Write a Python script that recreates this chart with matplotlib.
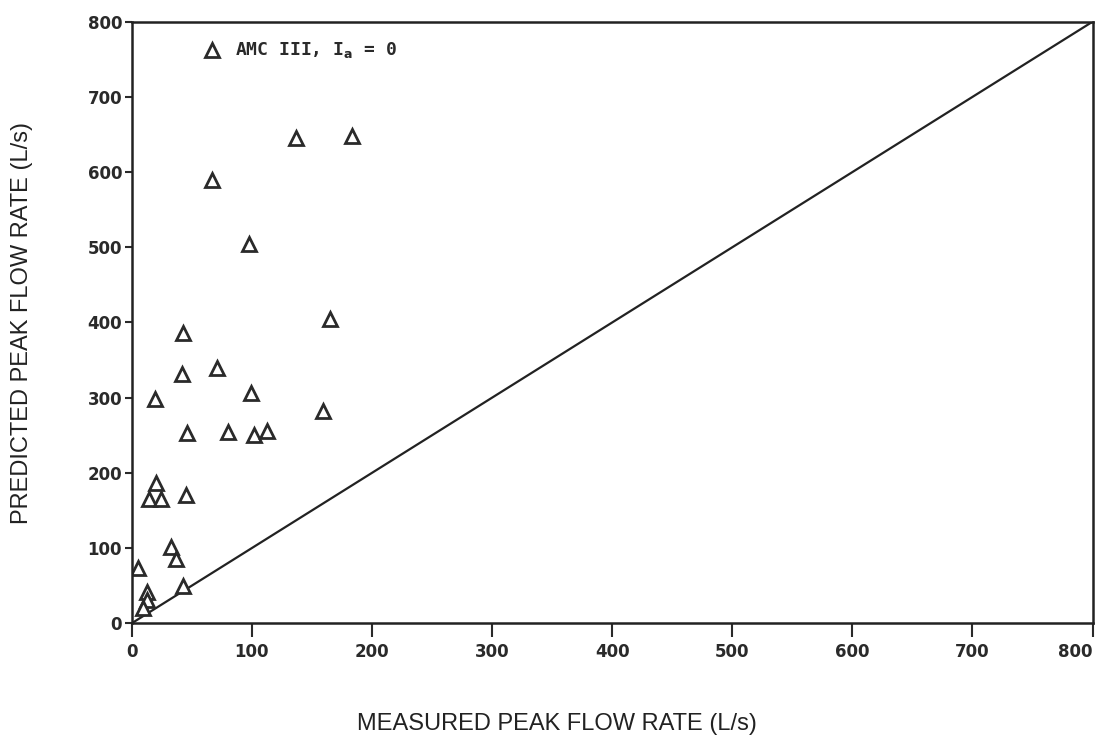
import numpy as np
import matplotlib.pyplot as plt

# Measured vs predicted peak flow rates (L/s), AMC III with Ia = 0
measured = [165, 137, 183, 67, 98, 43, 42, 71, 99, 19, 159, 46, 80, 102, 113,
            20, 14, 24, 45, 33, 37, 5, 43, 13, 13, 9]
predicted = [405, 645, 648, 590, 505, 386, 332, 340, 306, 298, 282, 253, 255, 251, 256,
             187, 165, 165, 170, 101, 86, 73, 50, 41, 31, 20]

ticks = [0, 100, 200, 300, 400, 500, 600, 700, 800]
ink = '#2a2a2a'

fig = plt.figure(figsize=(10.98, 7.5), dpi=100)
ax = fig.add_axes([0.120, 0.169, 0.875, 0.802])

# 1:1 line
ax.plot([0, 800], [0, 800], color='#222222', lw=1.6)

ax.plot(measured, predicted, linestyle='none', marker='^', markersize=10,
        markerfacecolor='white', markeredgecolor=ink, markeredgewidth=2.0)

# legend entry drawn by hand
ax.plot([67], [762], linestyle='none', marker='^', markersize=10,
        markerfacecolor='white', markeredgecolor=ink, markeredgewidth=2.0,
        clip_on=False)
ax.text(86, 762, r'AMC III, I$_\mathbf{a}$ = 0', fontsize=13, fontweight='bold',
        family='DejaVu Sans Mono', va='center', ha='left', color=ink)

ax.set_xlim(0, 800)
ax.set_ylim(0, 800)
ax.set_xticks(ticks)
ax.set_yticks(ticks)
ax.set_xticklabels([str(t) for t in ticks], fontsize=12, fontweight='bold', color=ink)
ax.set_yticklabels([str(t) for t in ticks], fontsize=12, fontweight='bold', color=ink)
ax.get_xticklabels()[-1].set_horizontalalignment('right')
ax.tick_params(direction='out', length=10, width=1.5, color=ink, pad=4)
ax.tick_params(axis='y', length=5, pad=2)

for s in ax.spines.values():
    s.set_linewidth(1.8)
    s.set_color('#222222')

ax.set_xlabel('MEASURED PEAK FLOW RATE (L/s)', fontsize=17, family='Liberation Sans',
              color='#222222')
ax.set_ylabel('PREDICTED PEAK FLOW RATE (L/s)', fontsize=17, family='Liberation Sans',
              color='#222222')
ax.xaxis.set_label_coords(0.443, -0.15)
ax.yaxis.set_label_coords(-0.103, 0.5)

fig.savefig('out.png', dpi=100)
